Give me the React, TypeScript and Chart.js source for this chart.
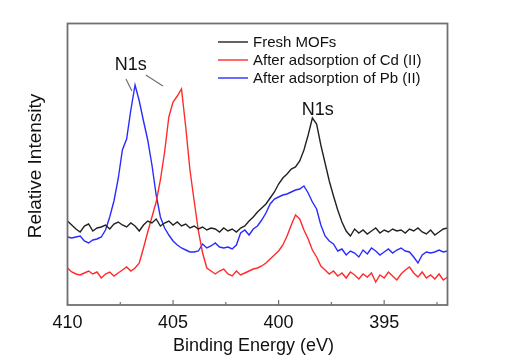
import { useEffect, useRef } from "react";
import { Chart, registerables } from "chart.js";

Chart.register(...registerables);

const energies = [
  410.0, 409.8, 409.6, 409.4, 409.2, 409.0, 408.8, 408.6, 408.4, 408.2,
  408.0, 407.8, 407.6, 407.4, 407.2, 407.0, 406.8, 406.6, 406.4, 406.2,
  406.0, 405.8, 405.6, 405.4, 405.2, 405.0, 404.8, 404.6, 404.4, 404.2,
  404.0, 403.8, 403.6, 403.4, 403.2, 403.0, 402.8, 402.6, 402.4, 402.2,
  402.0, 401.8, 401.6, 401.4, 401.2, 401.0, 400.8, 400.6, 400.4, 400.2,
  400.0, 399.8, 399.6, 399.4, 399.2, 399.0, 398.8, 398.6, 398.4, 398.2,
  398.0, 397.8, 397.6, 397.4, 397.2, 397.0, 396.8, 396.6, 396.4, 396.2,
  396.0, 395.8, 395.6, 395.4, 395.2, 395.0, 394.8, 394.6, 394.4, 394.2,
  394.0, 393.8, 393.6, 393.4, 393.2, 393.0, 392.8, 392.6, 392.4, 392.2,
  392.0,
];

const freshMOFs = [
  84, 80, 76, 73, 79, 81, 74, 77, 78, 80,
  76, 81, 83, 80, 78, 82, 79, 74, 80, 84,
  82, 86, 79, 82, 84, 80, 83, 79, 81, 77,
  79, 76, 78, 75, 77, 76, 73, 77, 74, 76,
  73, 77, 79, 84, 88, 93, 97, 101, 107, 113,
  121, 127, 131, 136, 138, 144, 155, 170, 187, 181,
  160, 142, 124, 109, 95, 83, 74, 69, 76, 72,
  75, 71, 74, 77, 72, 75, 73, 76, 74, 75,
  72, 76, 74, 77, 73, 71, 75, 70, 73, 76, 77,
];

const afterCd = [
  37, 33, 31, 30, 32, 34, 31, 33, 27, 31,
  33, 29, 32, 35, 38, 34, 37, 42, 57, 73,
  88, 103, 125, 153, 188, 203, 209, 216, 178, 135,
  104, 74, 52, 37, 34, 31, 34, 36, 31, 29,
  34, 30, 32, 34, 36, 37, 39, 42, 46, 50,
  54, 60, 69, 80, 90, 86, 75, 66, 55, 48,
  39, 35, 31, 34, 29, 32, 27, 33, 30, 26,
  31, 28, 32, 23, 30, 27, 33, 29, 25, 31,
  35, 38, 32, 28, 33, 27, 30, 26, 31, 25, 28,
];

const afterPb = [
  68, 67, 68, 69, 64, 62, 65, 66, 68, 75,
  88, 104, 126, 155, 166, 195, 220, 204, 184, 165,
  140, 110, 88, 77, 70, 64, 60, 57, 55, 53,
  53, 54, 61, 57, 59, 62, 58, 57, 58, 56,
  60, 72, 75, 70, 76, 79, 85, 92, 101, 106,
  108, 110, 111, 113, 115, 116, 119, 112, 103, 96,
  80, 69, 64, 61, 54, 56, 50, 54, 52, 48,
  55, 51, 57, 54, 50, 53, 56, 52, 55, 57,
  54, 53, 48, 42, 50, 53, 52, 53, 55, 53, 54,
];

const majorTicks = [410, 405, 400, 395];
const minorTicks = [407.5, 402.5, 397.5, 392.5];
const seriesLabels = ["Fresh MOFs", "After adsorption of Cd (II)", "After adsorption of Pb (II)"];
const xTitle = "Binding Energy (eV)";
const yTitle = "Relative Intensity";
const peakLabels = [
  { text: "N1s", x: 407.0, y: 235 },
  { text: "N1s", x: 398.15, y: 190 },
];
const leaderLines = [
  [407.23, 226, 406.95, 214],
  [406.29, 230, 405.48, 219],
];

const FONT = "'Liberation Sans', Arial, Helvetica, sans-serif";
const COLORS = ["#222222", "#ff2b2b", "#2b2bff"];

const decorPlugin = {
  id: "decor",
  afterDraw(chart: any) {
    const ctx = chart.ctx;
    const a = chart.chartArea;
    const xs = chart.scales.x;
    const ys = chart.scales.y;
    ctx.save();
    // frame
    ctx.strokeStyle = "#707070";
    ctx.lineWidth = 1.8;
    ctx.strokeRect(a.left, a.top, a.right - a.left, a.bottom - a.top);
    // inward ticks
    ctx.lineWidth = 1.2;
    majorTicks.forEach((v) => {
      const px = xs.getPixelForValue(v);
      ctx.beginPath();
      ctx.moveTo(px, a.bottom);
      ctx.lineTo(px, a.bottom - 5);
      ctx.stroke();
    });
    minorTicks.forEach((v) => {
      const px = xs.getPixelForValue(v);
      ctx.beginPath();
      ctx.moveTo(px, a.bottom);
      ctx.lineTo(px, a.bottom - 3);
      ctx.stroke();
    });
    // legend
    ctx.font = `15px ${FONT}`;
    ctx.textBaseline = "middle";
    ctx.textAlign = "left";
    seriesLabels.forEach((lab, k) => {
      const y = 42 + 18 * k;
      ctx.strokeStyle = COLORS[k];
      ctx.lineWidth = 1.4;
      ctx.beginPath();
      ctx.moveTo(218, y);
      ctx.lineTo(248, y);
      ctx.stroke();
      ctx.fillStyle = "#111";
      ctx.fillText(lab, 253, y + 1);
    });
    // peak labels
    ctx.font = `18px ${FONT}`;
    ctx.textAlign = "center";
    ctx.textBaseline = "alphabetic";
    ctx.fillStyle = "#111";
    peakLabels.forEach((p) => {
      ctx.fillText(p.text, xs.getPixelForValue(p.x), ys.getPixelForValue(p.y));
    });
    ctx.strokeStyle = "#707070";
    ctx.lineWidth = 1.2;
    leaderLines.forEach((l) => {
      ctx.beginPath();
      ctx.moveTo(xs.getPixelForValue(l[0]), ys.getPixelForValue(l[1]));
      ctx.lineTo(xs.getPixelForValue(l[2]), ys.getPixelForValue(l[3]));
      ctx.stroke();
    });
    // axis titles
    ctx.font = `18px ${FONT}`;
    ctx.textAlign = "center";
    ctx.textBaseline = "alphabetic";
    ctx.fillText(xTitle, (a.left + a.right) / 2 - 4, 351);
    ctx.save();
    ctx.translate(36, 166);
    ctx.rotate(-Math.PI / 2);
    ctx.font = `19px ${FONT}`;
    ctx.textBaseline = "middle";
    ctx.fillText(yTitle, 0, 0);
    ctx.restore();
    ctx.restore();
  },
};

export default function App() {
  const ref = useRef<HTMLCanvasElement | null>(null);
  useEffect(() => {
    if (!ref.current) return;
    const series = [freshMOFs, afterCd, afterPb];
    const chart = new Chart(ref.current, {
      type: "line",
      data: {
        datasets: series.map((s, k) => ({
          label: seriesLabels[k],
          data: energies.map((e, i) => ({ x: e, y: s[i] })),
          borderColor: COLORS[k],
          borderWidth: 1.4,
          pointRadius: 0,
          tension: 0,
          fill: false,
        })),
      },
      options: {
        responsive: false,
        animation: false,
        events: [],
        layout: { padding: { left: 67.5, right: 62.5, top: 23.5, bottom: 0 } },
        plugins: { legend: { display: false }, tooltip: { enabled: false } },
        scales: {
          x: {
            type: "linear",
            reverse: true,
            min: 392.0,
            max: 410,
            afterBuildTicks: (s: any) => {
              s.ticks = majorTicks.map((v) => ({ value: v }));
            },
            afterFit: (s: any) => {
              s.height = 57;
            },
            grid: { display: false },
            border: { display: false },
            ticks: {
              font: { family: FONT, size: 18 },
              color: "#111",
              padding: -1,
              maxRotation: 0,
              autoSkip: false,
              callback: (v: any) => String(v),
            },
          },
          y: { display: false, min: 0, max: 281.5 },
        },
      },
      plugins: [decorPlugin],
    } as any);
    return () => chart.destroy();
  }, []);
  return (
    <div style={{ position: "fixed", left: 0, top: 0, width: 510, height: 362, background: "#fff" }}>
      <canvas ref={ref} width={510} height={362} />
    </div>
  );
}
